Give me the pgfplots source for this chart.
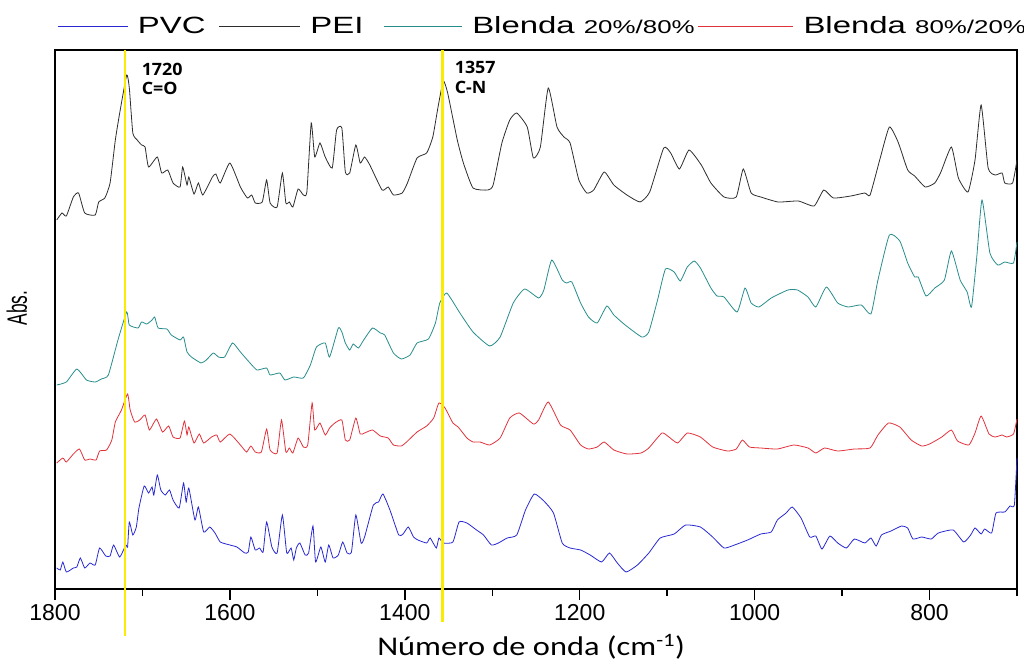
\documentclass[border=0pt]{standalone}
\usepackage{pgfplots}
\pgfplotsset{compat=1.18}
\usepackage{fontspec}
\setmainfont{Liberation Sans}
\newfontfamily\legfont[FakeStretch=1.4]{Liberation Sans}
\newfontfamily\absfont[FakeStretch=0.62]{Liberation Sans}
\newfontfamily\xlabfont[FakeStretch=1.2]{Carlito}
\newfontfamily\annfont[FakeStretch=1.05]{Open Sans}
\newfontfamily\tickfont{Liberation Sans}
\definecolor{cpvc}{RGB}{40,40,210}
\definecolor{cpei}{RGB}{45,45,45}
\definecolor{cbla}{RGB}{40,140,140}
\definecolor{cblb}{RGB}{225,50,60}
\definecolor{cyel}{RGB}{250,235,0}
\pgfplotsset{leglen/.style={legend image code/.code={\draw[##1] (0pt,0pt) -- (#1,0pt);}}}
\begin{document}
\begin{tikzpicture}
\path[use as bounding box] (-55pt,-73pt) rectangle (969pt,589pt);
\begin{axis}[
  at={(0pt,0pt)}, anchor=south west,
  scale only axis, width=962pt, height=539pt,
  x dir=reverse, xmin=700, xmax=1800, ymin=0, ymax=539,
  clip=false,
  axis line style={line width=1.5pt},
  xtick={1800,1600,1400,1200,1000,800},
  minor xtick={1700,1500,1300,1100,900,700},
  ytick=\empty,
  xtick pos=bottom, tick align=outside,
  major tick length=11pt, minor tick length=7pt,
  every tick/.style={black, line width=1.5pt},
  /pgf/number format/assume math mode=true,
  /pgf/number format/set thousands separator={},
  xticklabel style={font=\tickfont\fontsize{23}{23}\selectfont, anchor=north, yshift=-1pt},
  every axis plot/.append style={line width=0.8pt, smooth, tension=0.3},
  legend columns=4,
  legend style={at={(0,1)}, anchor=west, xshift=2pt, yshift=24pt, draw=none, fill=none,
    inner sep=0pt, nodes={inner sep=0pt},
    font=\legfont\fontsize{23.5}{23.5}\selectfont,
    /tikz/every odd column/.append style={column sep=10pt}},
]
\addplot[cpvc, leglen=70pt] coordinates {
(1798,21) (1794,19) (1791,27) (1787,17) (1779,21) (1775,22) (1771,31) (1766,21) (1760,26) (1754,24)
(1749,41) (1742,33) (1737,33) (1733,44) (1726,32) (1719,44) (1717,42) (1715,67) (1711,54) (1707,62)
(1704,81) (1698,103) (1693,96) (1689,102) (1687,94) (1683,114) (1679,99) (1674,94) (1669,99) (1665,89)
(1658,81) (1653,106) (1650,87) (1647,101) (1640,69) (1636,82) (1630,57) (1623,62) (1617,56) (1611,47)
(1600,44) (1592,42) (1583,36) (1579,37) (1576,52) (1571,39) (1566,41) (1562,37) (1558,67) (1552,42)
(1546,36) (1540,74) (1535,36) (1530,41) (1527,29) (1524,41) (1520,46) (1514,34) (1510,36) (1505,63)
(1502,27) (1496,42) (1491,27) (1487,44) (1482,31) (1476,34) (1471,47) (1466,36) (1461,37) (1456,74)
(1450,46) (1446,52) (1436,84) (1430,87) (1425,95) (1417,79) (1407,54) (1402,55) (1396,62) (1390,52)
(1385,49) (1375,46) (1371,51) (1364,41) (1361,51) (1356,46) (1345,47) (1338,67) (1329,66) (1318,59)
(1310,54) (1301,44) (1293,46) (1283,51) (1272,54) (1262,79) (1252,95) (1241,88) (1230,76) (1220,46)
(1211,41) (1199,39) (1188,34) (1175,27) (1166,36) (1157,26) (1147,17) (1134,24) (1121,36) (1108,51)
(1092,55) (1079,64) (1062,62) (1048,52) (1035,41) (1023,44) (1008,49) (993,55) (981,57) (974,69)
(964,76) (957,82) (947,71) (937,52) (930,53) (923,40) (914,53) (905,46) (895,41) (886,50)
(874,46) (867,51) (861,43) (855,54) (844,58) (832,63) (825,61) (819,50) (809,52) (798,50)
(790,56) (773,59) (761,47) (753,54) (748,61) (741,55) (737,60) (729,56) (724,76) (714,77)
(708,83) (703,84) (700,131)
};
\addlegendentry{PVC\rule{13pt}{0pt}}
\addplot[cpei, leglen=81pt] coordinates {
(1798,369) (1792,376) (1787,373) (1779,392) (1773,396) (1766,376) (1754,374) (1750,387) (1743,391) (1737,406)
(1731,449) (1726,476) (1718,514) (1715,501) (1711,456) (1706,449) (1701,444) (1697,442) (1693,422) (1683,432)
(1678,416) (1671,419) (1665,406) (1657,402) (1654,422) (1649,404) (1647,412) (1641,395) (1636,406) (1631,394)
(1620,412) (1616,415) (1611,406) (1600,426) (1588,402) (1580,391) (1575,394) (1571,386) (1563,387) (1558,409)
(1554,386) (1546,382) (1540,416) (1536,386) (1532,387) (1528,382) (1522,400) (1516,394) (1512,397) (1507,466)
(1503,432) (1497,446) (1491,432) (1483,421) (1478,459) (1472,461) (1468,417) (1463,416) (1456,444) (1451,426)
(1446,432) (1440,424) (1426,399) (1419,402) (1413,394) (1403,396) (1397,406) (1386,431) (1375,436) (1368,452)
(1362,482) (1356,508) (1351,496) (1340,449) (1333,426) (1322,401) (1305,399) (1299,404) (1289,446) (1280,469)
(1272,476) (1260,462) (1253,431) (1245,442) (1236,501) (1226,462) (1218,452) (1211,446) (1201,409) (1192,396)
(1184,399) (1172,417) (1161,404) (1146,394) (1131,387) (1120,397) (1104,441) (1096,436) (1086,420) (1075,439)
(1061,424) (1050,406) (1035,392) (1021,392) (1013,420) (1004,396) (993,392) (973,387) (950,388) (932,383)
(921,399) (910,391) (890,393) (874,396) (868,394) (857,429) (846,462) (836,447) (825,419) (817,413)
(805,402) (794,406) (787,417) (775,442) (767,411) (756,397) (748,429) (741,484) (733,421) (725,414)
(717,416) (714,406) (705,406) (700,429)
};
\addlegendentry{PEI\rule{20pt}{0pt}}
\addplot[cbla, leglen=78pt] coordinates {
(1798,204) (1787,207) (1775,220) (1764,209) (1754,207) (1747,210) (1739,214) (1728,249) (1718,277) (1715,264)
(1705,261) (1701,267) (1695,265) (1689,269) (1686,272) (1682,261) (1672,260) (1667,254) (1657,249) (1653,252)
(1649,237) (1644,232) (1633,226) (1627,229) (1619,236) (1613,232) (1606,232) (1597,246) (1588,237) (1577,226)
(1569,219) (1558,221) (1554,214) (1543,216) (1537,209) (1527,212) (1516,211) (1508,224) (1501,242) (1491,246)
(1486,232) (1476,261) (1472,257) (1468,246) (1463,239) (1459,245) (1453,241) (1447,249) (1437,261) (1428,256)
(1423,254) (1413,236) (1404,230) (1394,234) (1386,246) (1373,250) (1365,266) (1360,286) (1352,296) (1337,276)
(1322,257) (1303,243) (1291,252) (1276,286) (1263,300) (1247,291) (1241,299) (1232,329) (1220,309) (1215,306)
(1209,307) (1199,286) (1190,272) (1180,266) (1169,283) (1161,274) (1148,264) (1129,252) (1121,257) (1111,289)
(1102,320) (1092,317) (1085,308) (1077,322) (1069,328) (1062,321) (1050,301) (1043,293) (1035,292) (1020,277)
(1011,301) (1004,286) (995,282) (981,291) (962,299) (951,299) (939,292) (930,282) (918,302) (905,286)
(893,282) (878,284) (867,275) (859,309) (846,354) (834,348) (825,326) (817,312) (813,312) (804,293)
(794,301) (783,309) (775,338) (765,309) (757,297) (752,282) (746,332) (740,389) (731,336) (722,324)
(714,327) (704,326) (700,347)
};
\addlegendentry{Blenda {\fontsize{18.5}{18.5}\selectfont 20\%/80\%}\rule{3pt}{0pt}}
\addplot[cblb, leglen=95pt] coordinates {
(1798,126) (1791,131) (1787,127) (1779,135) (1772,140) (1766,129) (1760,130) (1753,129) (1749,138) (1741,139)
(1735,149) (1731,167) (1724,179) (1717,195) (1714,179) (1709,167) (1703,169) (1697,174) (1692,159) (1684,170)
(1677,157) (1670,163) (1665,152) (1657,151) (1652,168) (1649,154) (1647,162) (1641,146) (1635,155) (1630,146)
(1621,152) (1615,154) (1611,147) (1600,155) (1588,144) (1581,137) (1576,143) (1571,137) (1564,137) (1558,160)
(1554,139) (1546,136) (1541,169) (1536,137) (1532,141) (1528,136) (1522,151) (1516,142) (1511,144) (1506,186)
(1503,159) (1497,166) (1491,154) (1486,161) (1480,166) (1472,169) (1468,149) (1463,149) (1456,171) (1451,155)
(1446,156) (1437,159) (1428,153) (1419,151) (1413,144) (1404,143) (1398,147) (1386,157) (1375,163) (1367,171)
(1361,186) (1354,181) (1345,166) (1339,162) (1329,151) (1322,147) (1314,147) (1303,144) (1291,151) (1280,171)
(1269,176) (1253,165) (1247,169) (1236,187) (1222,164) (1211,159) (1199,144) (1190,140) (1180,142) (1172,147)
(1161,139) (1146,135) (1130,136) (1121,141) (1106,156) (1098,152) (1088,146) (1077,156) (1062,152) (1048,142)
(1031,138) (1021,140) (1014,149) (1006,142) (993,141) (974,140) (955,144) (939,141) (930,136) (920,141)
(905,138) (886,140) (868,141) (859,154) (847,166) (834,162) (821,149) (809,143) (800,145) (786,152)
(775,159) (768,148) (755,144) (748,156) (741,173) (732,155) (725,152) (717,154) (712,152) (704,155)
(700,170)
};
\addlegendentry{Blenda {\fontsize{18.5}{18.5}\selectfont 80\%/20\%}}
\addplot[cyel, line width=2.2pt, sharp plot, forget plot] coordinates {(1720,539) (1720,-47)};
\addplot[cyel, line width=2.2pt, sharp plot, forget plot] coordinates {(1357,539) (1357,-33)};
\node[anchor=west, font=\annfont\bfseries\fontsize{17}{17}\selectfont, inner sep=0pt] at (axis cs:1701,520) {1720};
\node[anchor=west, font=\annfont\bfseries\fontsize{17}{17}\selectfont, inner sep=0pt] at (axis cs:1701,501) {C=O};
\node[anchor=west, font=\annfont\bfseries\fontsize{17}{17}\selectfont, inner sep=0pt] at (axis cs:1343,522) {1357};
\node[anchor=west, font=\annfont\bfseries\fontsize{17}{17}\selectfont, inner sep=0pt] at (axis cs:1343,502) {C-N};
\node[rotate=90, anchor=center, font=\absfont\fontsize{28}{28}\selectfont] at ([xshift=-38pt]rel axis cs:0,0.521) {Abs.};
\node[anchor=center, font=\xlabfont\fontsize{27}{27}\selectfont] at ([yshift=-58pt]rel axis cs:0.495,0) {Número de onda (cm\textsuperscript{-1})};
\end{axis}
\end{tikzpicture}
\end{document}
